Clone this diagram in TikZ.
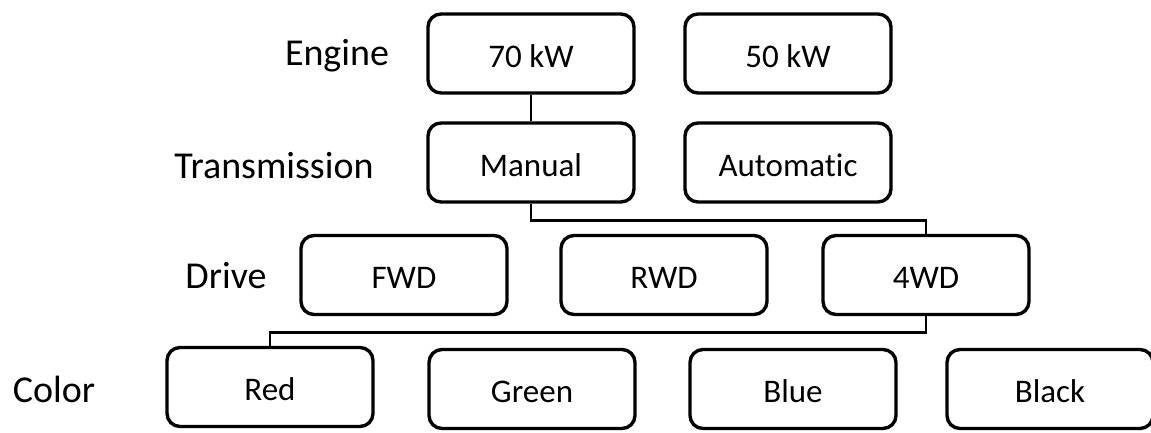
\documentclass[tikz,border=0pt]{standalone}
\usepackage{fontspec}
\setmainfont{Carlito}[Ligatures=NoCommon]
\usepackage{tikz}

\tikzset{
	box/.style={draw=black, line width=3.4pt, rounded corners=13pt, minimum width=206pt, minimum height=79pt, inner sep=0pt, text height=30pt, text depth=2.7pt, font=\fontsize{33}{36}\selectfont},
	level/.style={inner sep=0pt, anchor=base, font=\fontsize{38}{42}\selectfont},
	wire/.style={black, line width=2.6pt}
}

\begin{document}
\begin{tikzpicture}[x=1pt, y=-1pt]
				\useasboundingbox (0,0) rectangle (1151,432);
				% row labels
				\node[level] (engine) at (337,65.5) {Engine};
				\node[level] (trans) at (274,178.5) {Transmission};
				\node[level] (drive) at (226,288) {Drive};
				\node[level] (color) at (54,402) {Color};
				% engine and transmission
				\node[box] (kw70) at (531,53.5) {70 kW};
				\node[box] (kw50) at (788,53.5) {50 kW};
				\node[box] (manual) at (531,162.5) {Manual};
				\node[box] (auto) at (788,162.5) {Automatic};
				% drive
				\node[box] (fwd) at (404,275) {FWD};
				\node[box] (rwd) at (664,275) {RWD};
				\node[box] (awd) at (926,275) {4WD};
				% colors
				\node[box] (red) at (270,387) {Red};
				\node[box] (green) at (532,389) {Green};
				\node[box] (blue) at (793,389) {Blue};
				\node[box] (black) at (1050,389) {Black};
				% chosen path
				\draw[wire] (kw70.south) -- (manual.north);
				\draw[wire] (manual.south) -- ++(0,17) -| (awd.north);
				\draw[wire] (awd.south) -- ++(0,16) -| (red.north);
			\end{tikzpicture}
\end{document}
